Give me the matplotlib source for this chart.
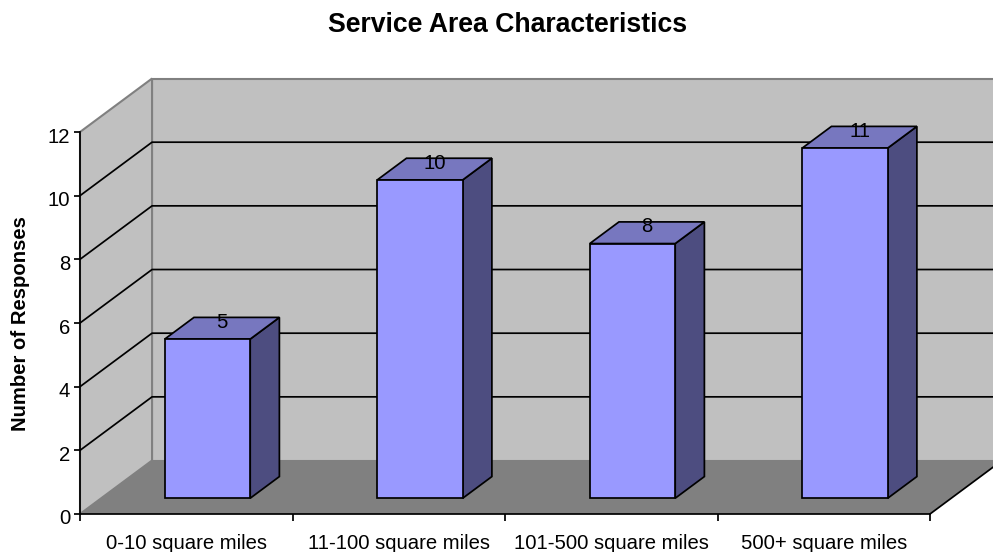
from matplotlib import pyplot as plt
from matplotlib.patches import Polygon
from matplotlib.transforms import ScaledTranslation

# Data
categories = ["0-10 square miles", "11-100 square miles", "101-500 square miles", "500+ square miles"]
responses = [5, 10, 8, 11]
y_ticks = [0, 2, 4, 6, 8, 10, 12]

# Colours
FRONT = "#9999FF"
TOP = "#7777BF"
SIDE = "#4D4D80"
WALL = "#C0C0C0"
FLOOR = "#808080"

plt.rcParams["font.family"] = ["Liberation Sans", "DejaVu Sans"]

# Depth of the box, in category units and value units
DEPTH_X = 0.339
DEPTH_Y = 1.68
YMAX = 12
XMAX = len(categories)
BAR_WIDTH = 0.402
BAR_D0, BAR_D1 = 0.295, 0.70
LW = 1.25
FS = 14.6


# Shift a point of the front plane backwards, d goes from 0 (front) to 1 (back)
def proj(x, y, d):
    return (x + d * DEPTH_X, y + d * DEPTH_Y)


def face(ax, points, color, edge, lw=1.0, z=1):
    ax.add_patch(Polygon(points, closed=True, facecolor=color, edgecolor=edge,
                         linewidth=lw, zorder=z, clip_on=False, joinstyle="miter"))


fig = plt.figure(figsize=(9.93, 5.52), dpi=100)
ax = fig.add_axes([80 / 993, 1 - 514 / 552, 850 / 993, 382 / 552])
ax.set_xlim(0, XMAX)
ax.set_ylim(0, YMAX)

# Walls and floor
face(ax, [proj(0, 0, 1), proj(XMAX, 0, 1), proj(XMAX, YMAX, 1), proj(0, YMAX, 1)], WALL, FLOOR, 1.5, 1)
face(ax, [proj(0, 0, 0), proj(0, 0, 1), proj(0, YMAX, 1), proj(0, YMAX, 0)], WALL, FLOOR, 1.5, 1)
ax.add_patch(Polygon([proj(0, 0, 0), proj(XMAX, 0, 0), proj(XMAX, 0, 1), proj(0, 0, 1)], closed=True,
                     facecolor=FLOOR, edgecolor="none", zorder=1.5, clip_on=False))
ax.plot(*zip(proj(XMAX, 0, 0), proj(XMAX, 0, 1)), color="black", lw=LW, zorder=2, clip_on=False)

# Gridlines along the side wall and the back wall
for v in y_ticks[1:-1]:
    pts = [proj(0, v, 0), proj(0, v, 1), proj(XMAX, v, 1)]
    ax.plot(*zip(*pts), color="black", lw=LW, zorder=2, clip_on=False)

# Bars
for i, val in enumerate(responses):
    x0 = i + 0.5 - BAR_WIDTH / 2
    x1 = i + 0.5 + BAR_WIDTH / 2
    face(ax, [proj(x1, 0, BAR_D0), proj(x1, 0, BAR_D1), proj(x1, val, BAR_D1), proj(x1, val, BAR_D0)], SIDE, "black", LW, 3)
    face(ax, [proj(x0, val, BAR_D0), proj(x1, val, BAR_D0), proj(x1, val, BAR_D1), proj(x0, val, BAR_D1)], TOP, "black", LW, 3)
    face(ax, [proj(x0, 0, BAR_D0), proj(x1, 0, BAR_D0), proj(x1, val, BAR_D0), proj(x0, val, BAR_D0)], FRONT, "black", LW, 4)
    ax.annotate(str(val), proj(i + 0.5, val, (BAR_D0 + BAR_D1) / 2), xytext=(0, -2.6), textcoords="offset points",
                ha="center", va="bottom", fontsize=FS, color="black", zorder=5, annotation_clip=False)

# Axes
ax.patch.set_visible(False)
for s in ["top", "right"]:
    ax.spines[s].set_visible(False)
for s in ["left", "bottom"]:
    ax.spines[s].set_linewidth(LW)
    ax.spines[s].set_zorder(6)

ax.set_yticks(y_ticks)
ax.set_xticks(range(XMAX + 1))
ax.set_xticklabels([])
ax.set_xticks([i + 0.5 for i in range(XMAX)], minor=True)
ax.set_xticklabels(categories, minor=True)
ax.tick_params(axis="x", which="major", length=5, width=LW)
ax.tick_params(axis="x", which="minor", length=0, pad=14.5, labelsize=FS)
ax.tick_params(axis="y", length=4.5, width=LW, labelsize=FS, pad=2.5)

# Value labels sit a little under their tick
for lab in ax.get_yticklabels():
    lab.set_transform(lab.get_transform() + ScaledTranslation(0, -3 / 100, fig.dpi_scale_trans))

fig.text(507.5 / 993, 1 - 25 / 552, "Service Area Characteristics", ha="center", va="center",
         fontsize=19.2, fontweight="bold")
fig.text(21 / 993, 1 - 324 / 552, "Number of Responses", ha="center", va="center",
         rotation=90, fontsize=14.6, fontweight="bold")

fig.savefig("out.png", dpi=100)
